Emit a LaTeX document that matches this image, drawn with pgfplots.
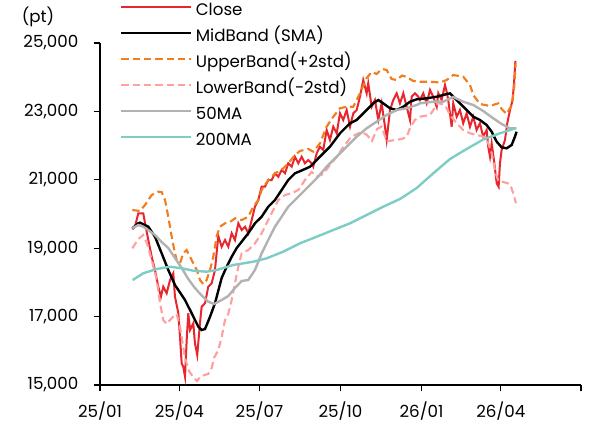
\documentclass[border=0pt]{standalone}
\usepackage{pgfplots}
\pgfplotsset{compat=1.18}
\usepackage{fontspec}
\setmainfont{Poppins}
\definecolor{cclose}{RGB}{232,38,46}
\definecolor{cupper}{RGB}{240,125,30}
\definecolor{clower}{RGB}{255,160,160}
\definecolor{cma50}{RGB}{178,178,178}
\definecolor{cma200}{RGB}{126,204,198}
\begin{document}
\begin{tikzpicture}
\path[use as bounding box] (0,0) rectangle (444pt,318.75pt);
\node[font=\fontsize{12.5pt}{15pt}\selectfont] at (28.5pt,306pt) {(pt)};
\begin{axis}[
  at={(75pt,30pt)}, anchor=south west,
  scale only axis, width=360.75pt, height=256.5pt,
  xmin=0, xmax=546, ymin=15000, ymax=25000,
  axis x line=bottom, axis y line=left, axis line style={-, line width=0.8pt},
  xtick pos=bottom, ytick pos=left,
  tick align=outside, major tick length=4.8pt,
  xtick style={line width=0.8pt, black},
  ytick style={line width=0.8pt, black},
  scaled y ticks=false, scaled x ticks=false,
  xtick={0,90,181,273,365,455,546},
  xticklabels={25/01,25/04,25/07,25/10,26/01,26/04,{}},
  ytick={15000,17000,19000,21000,23000,25000},
  yticklabels={{15,000},{17,000},{19,000},{21,000},{23,000},{25,000}},
  tick label style={font=\fontsize{12.5pt}{15pt}\selectfont},
  yticklabel style={xshift=-8pt},
  xticklabel style={yshift=-4pt},
  legend cell align=left,
  legend style={draw=none, fill=none, at={(0.033,1.125)}, anchor=north west,
    font=\fontsize{12.5pt}{15pt}\selectfont, row sep=7pt, column sep=3pt,
    nodes={inner sep=0pt, text height=9.5pt, text depth=3pt}},
  legend image code/.code={\draw[#1] (0pt,3.5pt) -- (52pt,3.5pt);},
]
\addplot[cclose, line width=1.5pt] table {
36.7 19553
39.7 19629
43.5 20020
49.1 20020
51.9 19629
54.8 19240
58.7 18751
62.4 18363
66.2 17874
69.2 17582
71.8 17874
75.7 17681
79.5 18070
83.2 18266
85.1 17582
88.9 17105
90.8 16412
92.7 15634
94.5 15535
96.5 15243
98.4 16316
100.2 17096
102.2 16608
105.9 16804
107.8 16219
110.4 15877
113.5 16813
115.4 17289
119.2 17389
122.9 17874
126.8 17974
130.5 18363
134.3 19357
138.1 19044
141.9 19240
145.6 19044
149.5 19436
153.2 19240
157.0 19728
160.8 19532
164.6 19629
168.3 19436
172.2 19825
175.9 20213
179.7 20409
183.5 20798
187.3 20798
191.0 20994
194.9 20994
198.6 21190
202.4 21091
206.2 21287
210.0 21190
213.7 21482
217.6 21383
221.3 21675
225.1 21482
228.9 21675
232.7 21482
236.4 21579
240.3 21482
242.1 21383
246.0 21775
249.7 21968
253.4 21871
257.3 22456
261.0 22164
264.8 22553
268.7 22360
272.4 22944
276.1 22749
280.0 23041
283.8 22553
287.5 22944
291.4 23041
295.1 23430
298.8 23918
302.7 23529
304.5 23822
308.4 23137
312.1 23333
315.9 22749
319.7 23237
323.5 22553
325.4 22164
329.2 23041
332.9 23333
336.8 23529
340.5 23237
344.3 23529
348.1 23137
351.9 22749
353.8 23430
357.5 23529
361.3 23430
363.2 23333
366.9 23529
370.8 23237
374.6 23626
378.3 23430
382.2 23137
384.0 23529
387.8 23333
391.6 23772
393.5 23576
395.3 23333
399.2 22553
401.0 23237
404.9 22845
408.6 23041
412.3 22652
416.2 22944
420.0 22553
423.7 22845
427.5 22456
431.3 22652
435.0 22260
438.9 22456
440.7 21968
442.7 21675
444.6 22067
447.2 21579
450.3 20898
452.5 20798
454.0 21482
455.9 21871
459.7 22164
462.3 22652
465.4 23041
468.4 23333
470.2 23918
471.5 24474
};
\addlegendentry{Close}
\addplot[black, line width=1.8pt] table {
36.7 19582
43.5 19728
45.4 19746
54.8 19629
62.4 19336
70.0 18851
73.8 18605
77.5 18363
85.1 17924
96.5 17485
104.1 17096
111.6 16705
115.4 16608
119.2 16637
124.9 16997
130.5 17389
138.1 18129
143.8 18459
149.5 18751
155.2 19006
160.8 19190
168.3 19436
175.9 19728
183.5 19921
191.0 20213
198.6 20409
206.2 20702
213.7 20994
221.3 21190
228.9 21272
238.4 21383
249.7 21675
261.0 21968
272.4 22360
283.8 22652
291.4 22749
302.7 23041
310.2 23237
315.9 23333
321.5 23237
329.2 23091
336.8 23041
344.3 23137
351.9 23284
359.5 23354
370.8 23383
382.2 23430
389.6 23480
397.3 23529
401.0 23430
408.6 23237
416.2 23041
423.7 22845
431.3 22749
438.9 22602
444.6 22406
450.3 22114
455.9 21950
461.6 21921
467.3 22018
471.0 22260
472.9 22406
};
\addlegendentry{MidBand (SMA)}
\addplot[cupper, line width=1.6pt, dash pattern=on 5.5pt off 3pt] table {
36.7 20117
45.4 20088
51.1 20263
58.7 20556
66.2 20652
70.0 20643
73.8 20409
77.5 19921
81.4 19336
84.3 18947
87.0 18655
90.8 18558
94.5 18851
98.4 18947
102.2 18751
105.9 18558
109.8 18363
113.5 18070
117.2 17953
121.1 18070
124.9 18363
128.6 18751
132.5 19357
136.2 19629
141.9 19728
147.6 19766
153.2 19874
160.8 19825
168.3 19921
174.0 20213
179.7 20409
183.5 20702
191.0 20994
198.6 21190
206.2 21287
213.7 21482
221.3 21725
227.0 21842
236.4 21901
242.1 21822
249.7 22067
257.3 22553
264.8 22845
272.4 23091
280.0 23137
287.5 23137
295.1 23529
302.7 23977
308.4 24152
314.0 24094
320.0 24240
325.4 24211
331.0 23947
336.8 23918
342.8 24050
348.1 24006
355.6 23889
363.2 23868
374.6 23868
385.9 23845
393.5 23918
401.0 24064
412.3 24015
420.0 23772
423.7 23480
431.3 23216
442.7 23158
452.1 23237
455.9 23070
461.6 22924
467.3 23187
470.2 23713
471.8 24415
};
\addlegendentry{UpperBand(+2std)}
\addplot[clower, line width=1.6pt, dash pattern=on 5.5pt off 3pt] table {
36.7 18997
43.5 19269
49.1 19386
53.3 19143
58.7 18655
64.4 18070
68.1 17398
71.8 16900
75.7 16784
81.4 16959
87.0 17076
90.8 16705
96.5 15789
101.0 15409
105.9 15234
110.1 15117
114.6 15263
122.9 15322
126.8 15497
129.4 15789
134.3 16023
138.1 16404
141.9 16900
145.6 17076
149.5 17485
153.2 17974
157.0 18459
160.8 18851
168.3 18947
175.9 19143
183.5 19436
191.0 19825
196.7 20117
202.4 20409
210.0 20556
217.6 20605
225.1 20702
232.7 20994
240.3 21228
246.0 21091
253.4 21170
261.0 21433
268.7 21667
276.1 21959
283.8 22213
289.4 22310
297.0 22398
303.0 22310
308.7 22134
314.4 22485
319.7 22553
325.4 22120
334.8 22164
342.4 22193
348.1 22251
351.9 22515
357.5 22749
363.2 22845
374.6 22895
383.6 23246
391.6 23187
397.3 22895
404.9 22652
412.3 22456
420.0 22360
427.5 22310
437.0 22251
440.7 22067
444.6 21784
448.3 21287
452.1 20965
457.7 20936
465.4 20877
469.1 20605
472.2 20313
};
\addlegendentry{LowerBand(−2std)}
\addplot[cma50, line width=1.8pt] table {
36.7 19582
43.5 19678
49.1 19629
54.8 19532
62.4 19386
70.0 19181
77.5 19006
85.1 18713
92.7 18421
100.2 18099
107.8 17836
115.4 17617
122.9 17436
129.4 17368
138.1 17485
145.6 17602
153.2 17836
160.8 18041
168.3 18070
175.9 18363
183.5 18851
191.0 19240
198.6 19629
206.2 19921
213.7 20213
221.3 20409
228.9 20605
236.4 20798
246.0 21044
257.3 21383
268.7 21675
280.0 21968
291.4 22260
302.7 22506
314.0 22699
325.4 22895
336.8 23041
348.1 23091
359.5 23187
363.2 23237
378.3 23284
389.6 23284
401.0 23421
412.3 23284
423.7 23187
435.0 23012
446.4 22798
455.9 22632
465.4 22506
472.5 22506
};
\addlegendentry{50MA}
\addplot[cma200, line width=1.8pt] table {
37.1 18070
49.1 18266
64.4 18392
79.5 18459
92.7 18412
105.9 18342
121.1 18313
132.5 18363
151.3 18509
174.0 18605
189.2 18704
208.0 18898
227.0 19143
246.0 19336
264.8 19532
283.8 19728
302.7 19971
321.5 20213
340.5 20439
359.5 20760
378.3 21190
397.3 21608
416.2 21901
435.0 22178
454.0 22360
472.5 22515
};
\addlegendentry{200MA}
\end{axis}
\foreach \k in {0,1,2,3,4,5}{
  \draw[line width=0.8pt, black] (75pt,{30pt+\k*51.3pt}) -- ++(-4.8pt,0);
}
\end{tikzpicture}
\end{document}
